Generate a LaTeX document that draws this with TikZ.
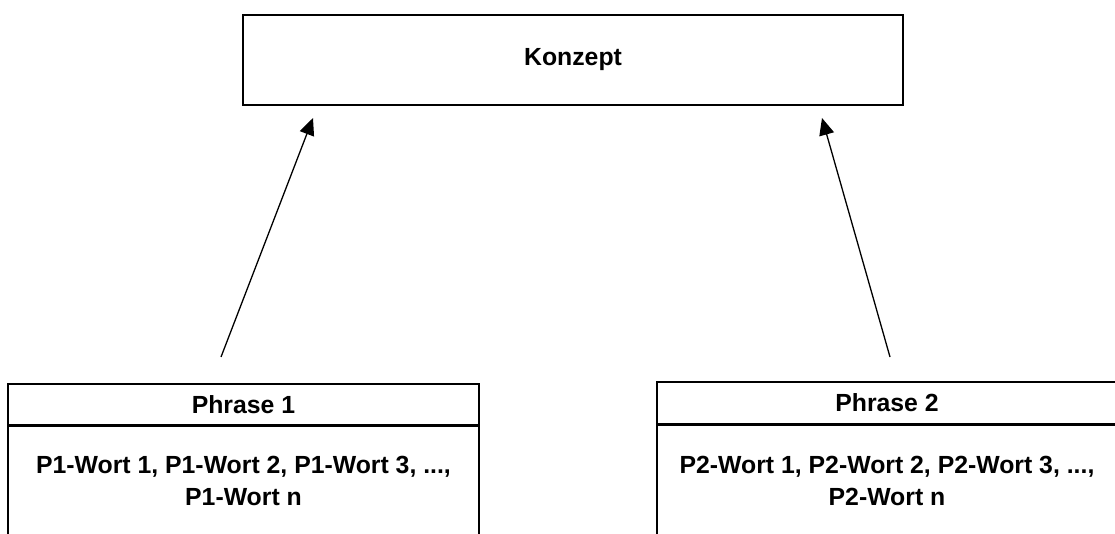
\documentclass[tikz,border=0pt]{standalone}
\usepackage{fontspec}
\setmainfont{Liberation Sans}
\usetikzlibrary{arrows.meta}
\begin{document}
\begin{tikzpicture}[x=1pt,y=-1pt,
  box/.style={draw=black, line width=1.6pt, rectangle, inner sep=0pt},
  lbl/.style={font=\fontsize{24.8}{32}\selectfont\bfseries, align=center, inner sep=0pt},
  arr/.style={line width=1.3pt, -{Triangle[length=17pt,width=15pt]}}]
\useasboundingbox (0,0) rectangle (1115,534);
\clip (0,0) rectangle (1115,534);
% top concept box
\node[box, lbl, minimum width=660pt, minimum height=90pt] (konzept) at (573,60) {Konzept};
% phrase 1
\node[box, lbl, minimum width=471pt, minimum height=41pt] (p1head) at (243.5,404.5) {Phrase 1};
\node[box, minimum width=471pt, minimum height=160pt, anchor=north] (p1body) at (p1head.south) {};
\node[lbl] (p1words) at (243.5,481) {P1-Wort 1, P1-Wort 2, P1-Wort 3, ...,\\P1-Wort n};
% phrase 2
\node[box, lbl, minimum width=460pt, minimum height=42pt] (p2head) at (887,403) {Phrase 2};
\node[box, minimum width=460pt, minimum height=160pt, anchor=north] (p2body) at (p2head.south) {};
\node[lbl] (p2words) at (887,481) {P2-Wort 1, P2-Wort 2, P2-Wort 3, ...,\\P2-Wort n};
% arrows
\coordinate (s1) at (221,357);
\coordinate (t1) at (313,118);
\coordinate (s2) at (890,357);
\coordinate (t2) at (822,118);
\draw[arr] (s1) -- (t1);
\draw[arr] (s2) -- (t2);
\end{tikzpicture}
\end{document}
